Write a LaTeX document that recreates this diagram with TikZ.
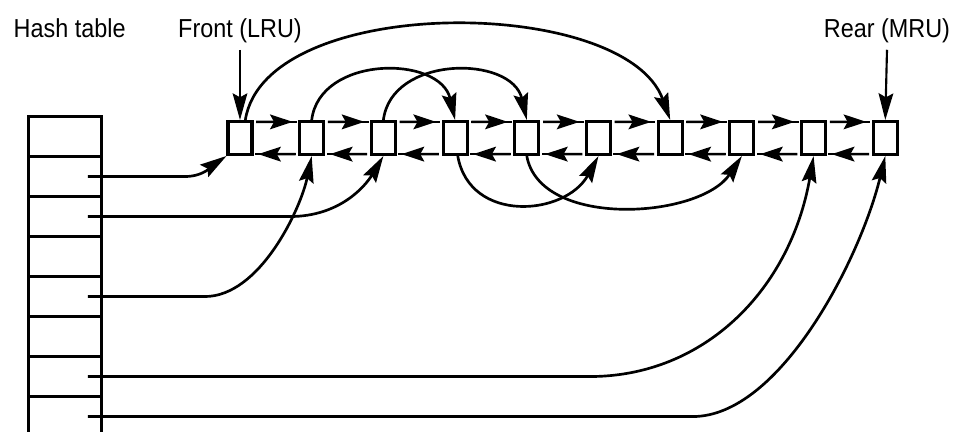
\documentclass[tikz,border=0pt]{standalone}
\usepackage{fontspec}
\setmainfont{Liberation Sans}[FakeStretch=0.9]
\usepackage{tikz}
\usetikzlibrary{arrows.meta,calc}

\begin{document}
\begin{tikzpicture}[x=0.75pt, y=-0.75pt,
        page/.style={draw, line width=2.3pt, minimum width=18pt, minimum height=24.7pt, inner sep=0pt},
        slot/.style={draw, line width=2.3pt, minimum width=55pt, minimum height=30pt, inner sep=0pt, anchor=north west},
        ptr/.style={draw, line width=2pt, -{Stealth[length=20pt, width=11pt, inset=3pt]}},
        link/.style={draw, line width=2pt, -{Stealth[length=17pt, width=11pt, inset=3pt]}},
        lbl/.style={anchor=base, font=\fontsize{19.5pt}{22pt}\selectfont}]
        \useasboundingbox (0,0) rectangle (954,432);
        \node[lbl, anchor=base west] (hashlbl) at (9,37) {Hash table};
        \node[lbl] (front) at (240,37) {Front (LRU)};
        \node[lbl] (rear) at (887,37) {Rear (MRU)};
        \foreach \i in {1,...,8}{
            \node[slot] (h\i) at (27,75+40*\i) {};
        }
        \foreach \i in {1,...,10}{
            \node[page] (b\i) at ({240+71.7*(\i-1)},138) {};
        }
        \foreach \j [count=\i] in {2,...,10}{
            \coordinate (nx\i) at ([xshift=2pt,yshift=-1.4pt]b\i.north east);
            \coordinate (nxe\i) at ([xshift=-1pt,yshift=-1.4pt]b\j.north west);
            \coordinate (pv\i) at ([xshift=-2pt,yshift=1.4pt]b\j.south west);
            \coordinate (pve\i) at ([xshift=1pt,yshift=1.4pt]b\i.south east);
            \path[draw, line width=2pt] (nx\i) -- (nxe\i);
            \path[link] (nx\i) -- ($(nx\i)!0.9!(nxe\i)$);
            \path[draw, line width=2pt] (pv\i) -- (pve\i);
            \path[link] (pv\i) -- ($(pv\i)!0.92!(pve\i)$);
        }
        \path[ptr, line width=1.6pt] ([yshift=-2pt]front.south) -- (b1.north);
        \path[ptr, line width=1.6pt] ([yshift=-2pt]rear.south) -- (b10.north);
        \path[ptr] ([xshift=4pt]b1.north) .. controls +(20,-127) and +(-45,-125) .. (b7.north);
        \path[ptr] (b2.north) .. controls +(8,-65) and +(-15,-65) .. (b4.north);
        \path[ptr] (b3.north) .. controls +(8,-65) and +(-15,-65) .. (b5.north);
        \path[ptr] ([xshift=2pt]b4.south) .. controls +(12,68) and +(-33,60) .. (b6.south);
        \path[ptr] (b5.south) .. controls +(13,73) and +(-42,63) .. (b8.south);
        \path[ptr] ([xshift=17pt]h2.center) -- ++(97,0) .. controls +(20,0) and +(-12,8) .. (b1.south west);
        \path[ptr] ([xshift=17pt]h3.center) -- ++(202,0) .. controls +(50,0) and +(-18,30) .. (b3.south);
        \path[ptr] ([xshift=17pt]h5.center) -- ++(117,0) .. controls +(55,0) and +(-11,53) .. (b2.south);
        \path[ptr] ([xshift=17pt]h7.center) -- ++(502,0) .. controls +(115,0) and +(-23,133) .. (b9.south);
        \path[ptr] ([xshift=17pt]h8.center) -- ++(605,0) .. controls +(87,0) and +(-25,103) .. (b10.south);
    \end{tikzpicture}
\end{document}
